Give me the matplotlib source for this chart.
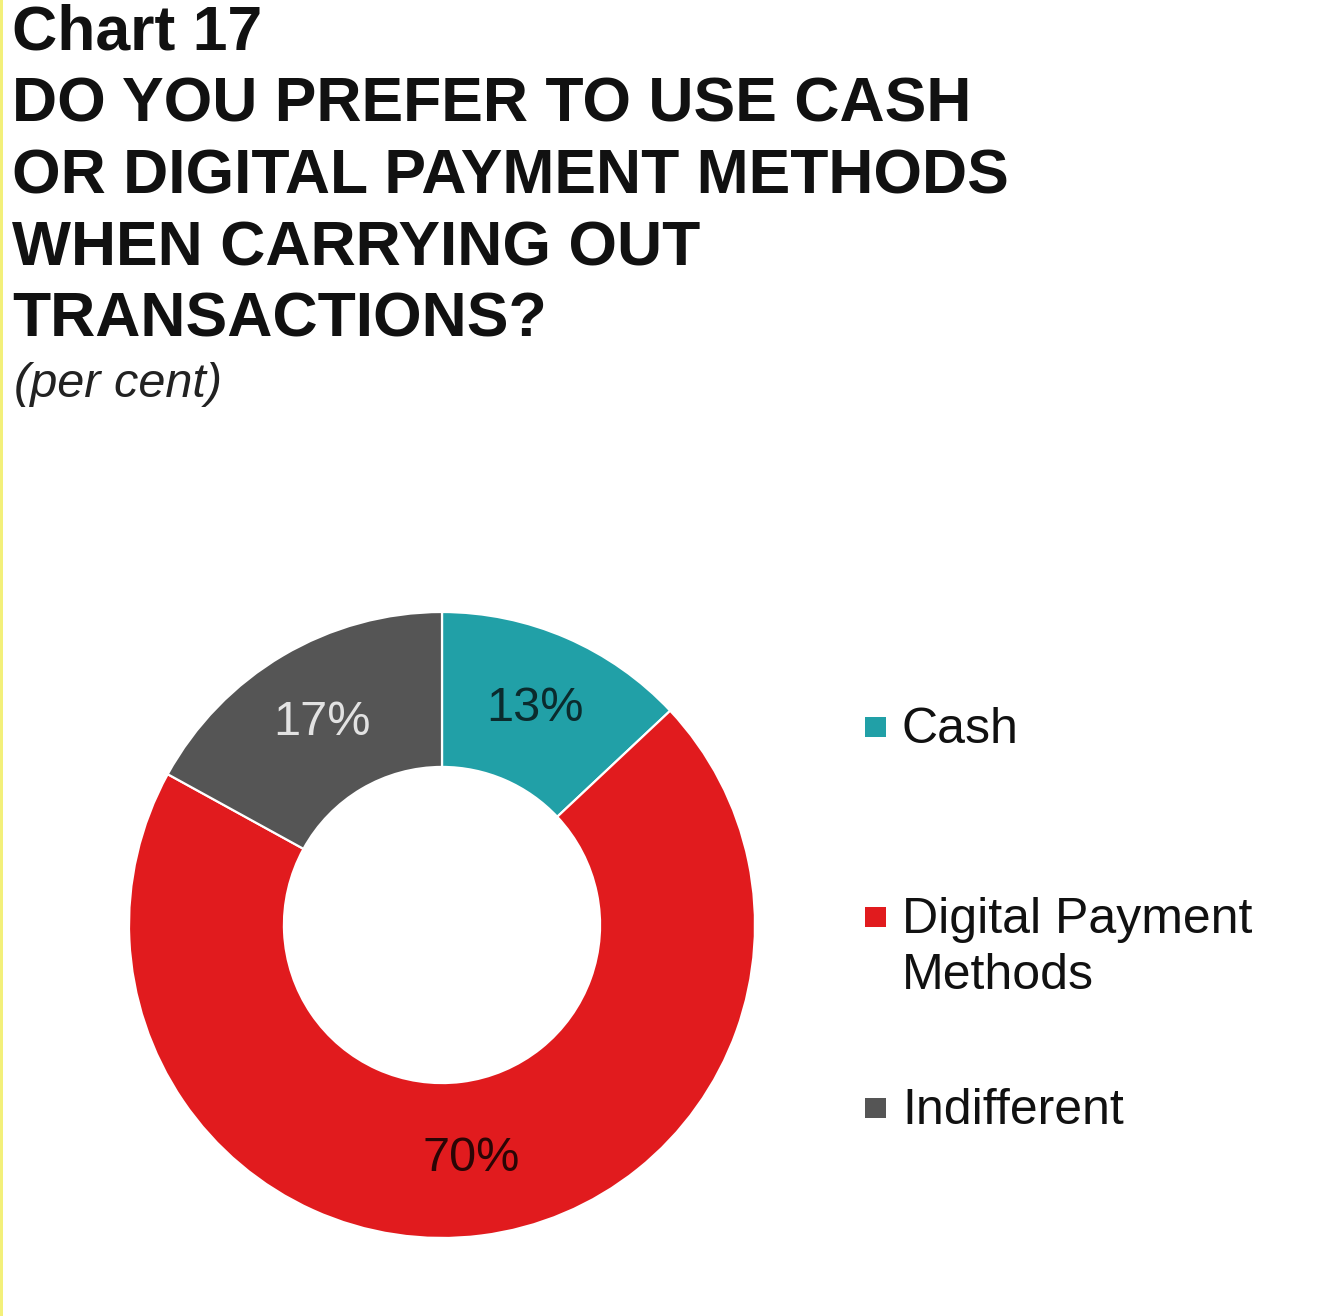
import matplotlib.pyplot as plt
from matplotlib.patches import Rectangle
import numpy as np

plt.rcParams['font.family'] = ['Liberation Sans', 'DejaVu Sans']

# data
categories = ['Cash', 'Digital Payment\nMethods', 'Indifferent']
values = [13, 70, 17]
colors = ['#21A0A7', '#E11B1E', '#555555']
label_colors = ['#0B2B2D', '#2A0505', '#E2E2E2']

title_lines = ['Chart 17',
               'DO YOU PREFER TO USE CASH',
               'OR DIGITAL PAYMENT METHODS',
               'WHEN CARRYING OUT',
               'TRANSACTIONS?']
subtitle = '(per cent)'

W, H = 1320, 1316
fig = plt.figure(figsize=(W / 100, H / 100), dpi=100)
fig.patch.set_facecolor('white')

# thin yellow rule at the left edge
fig.add_artist(Rectangle((0, 0), 2.5 / W, 1, transform=fig.transFigure,
                         facecolor='#F3F07A', edgecolor='none'))

# title block
baselines = [50, 122, 193, 265, 337]
for txt, b in zip(title_lines, baselines):
    fig.text(12 / W, 1 - b / H, txt, fontsize=45, fontweight='bold',
             color='#111111', va='baseline', ha='left')
fig.text(14 / W, 1 - 397 / H, subtitle, fontsize=35, fontstyle='italic',
         color='#222222', va='baseline', ha='left')

# donut
cx, cy, r = 442, H - 925, 313
ax = fig.add_axes([(cx - r) / W, (cy - r) / H, 2 * r / W, 2 * r / H])
wedges, _ = ax.pie(values, colors=colors, startangle=90, counterclock=False,
                   radius=1, wedgeprops=dict(width=0.495, edgecolor='white',
                                             linewidth=1.6))
ax.set_xlim(-1, 1)
ax.set_ylim(-1, 1)
ax.set_aspect('equal')
ax.axis('off')

cum = np.cumsum([0] + values[:-1])
for v, c0, lc in zip(values, cum, label_colors):
    ang = np.deg2rad(90 - (c0 + v / 2) / sum(values) * 360)
    rr = 0.752
    ax.text(rr * np.cos(ang), rr * np.sin(ang), f'{v}%', fontsize=35,
            color=lc, ha='center', va='center')

# legend (placed by hand to follow the original spacing)
leg_y = [727, 917, 1108]
for cat, col, y in zip(categories, colors, leg_y):
    fig.add_artist(Rectangle((865 / W, 1 - (y + 10) / H), 21 / W, 20 / H,
                             transform=fig.transFigure, facecolor=col,
                             edgecolor='none'))
    for k, line in enumerate(cat.split('\n')):
        fig.text(902 / W, 1 - (y + 16 + 56 * k) / H, line, fontsize=36,
                 color='#111111', va='baseline', ha='left')

fig.savefig('out.png', dpi=100)
